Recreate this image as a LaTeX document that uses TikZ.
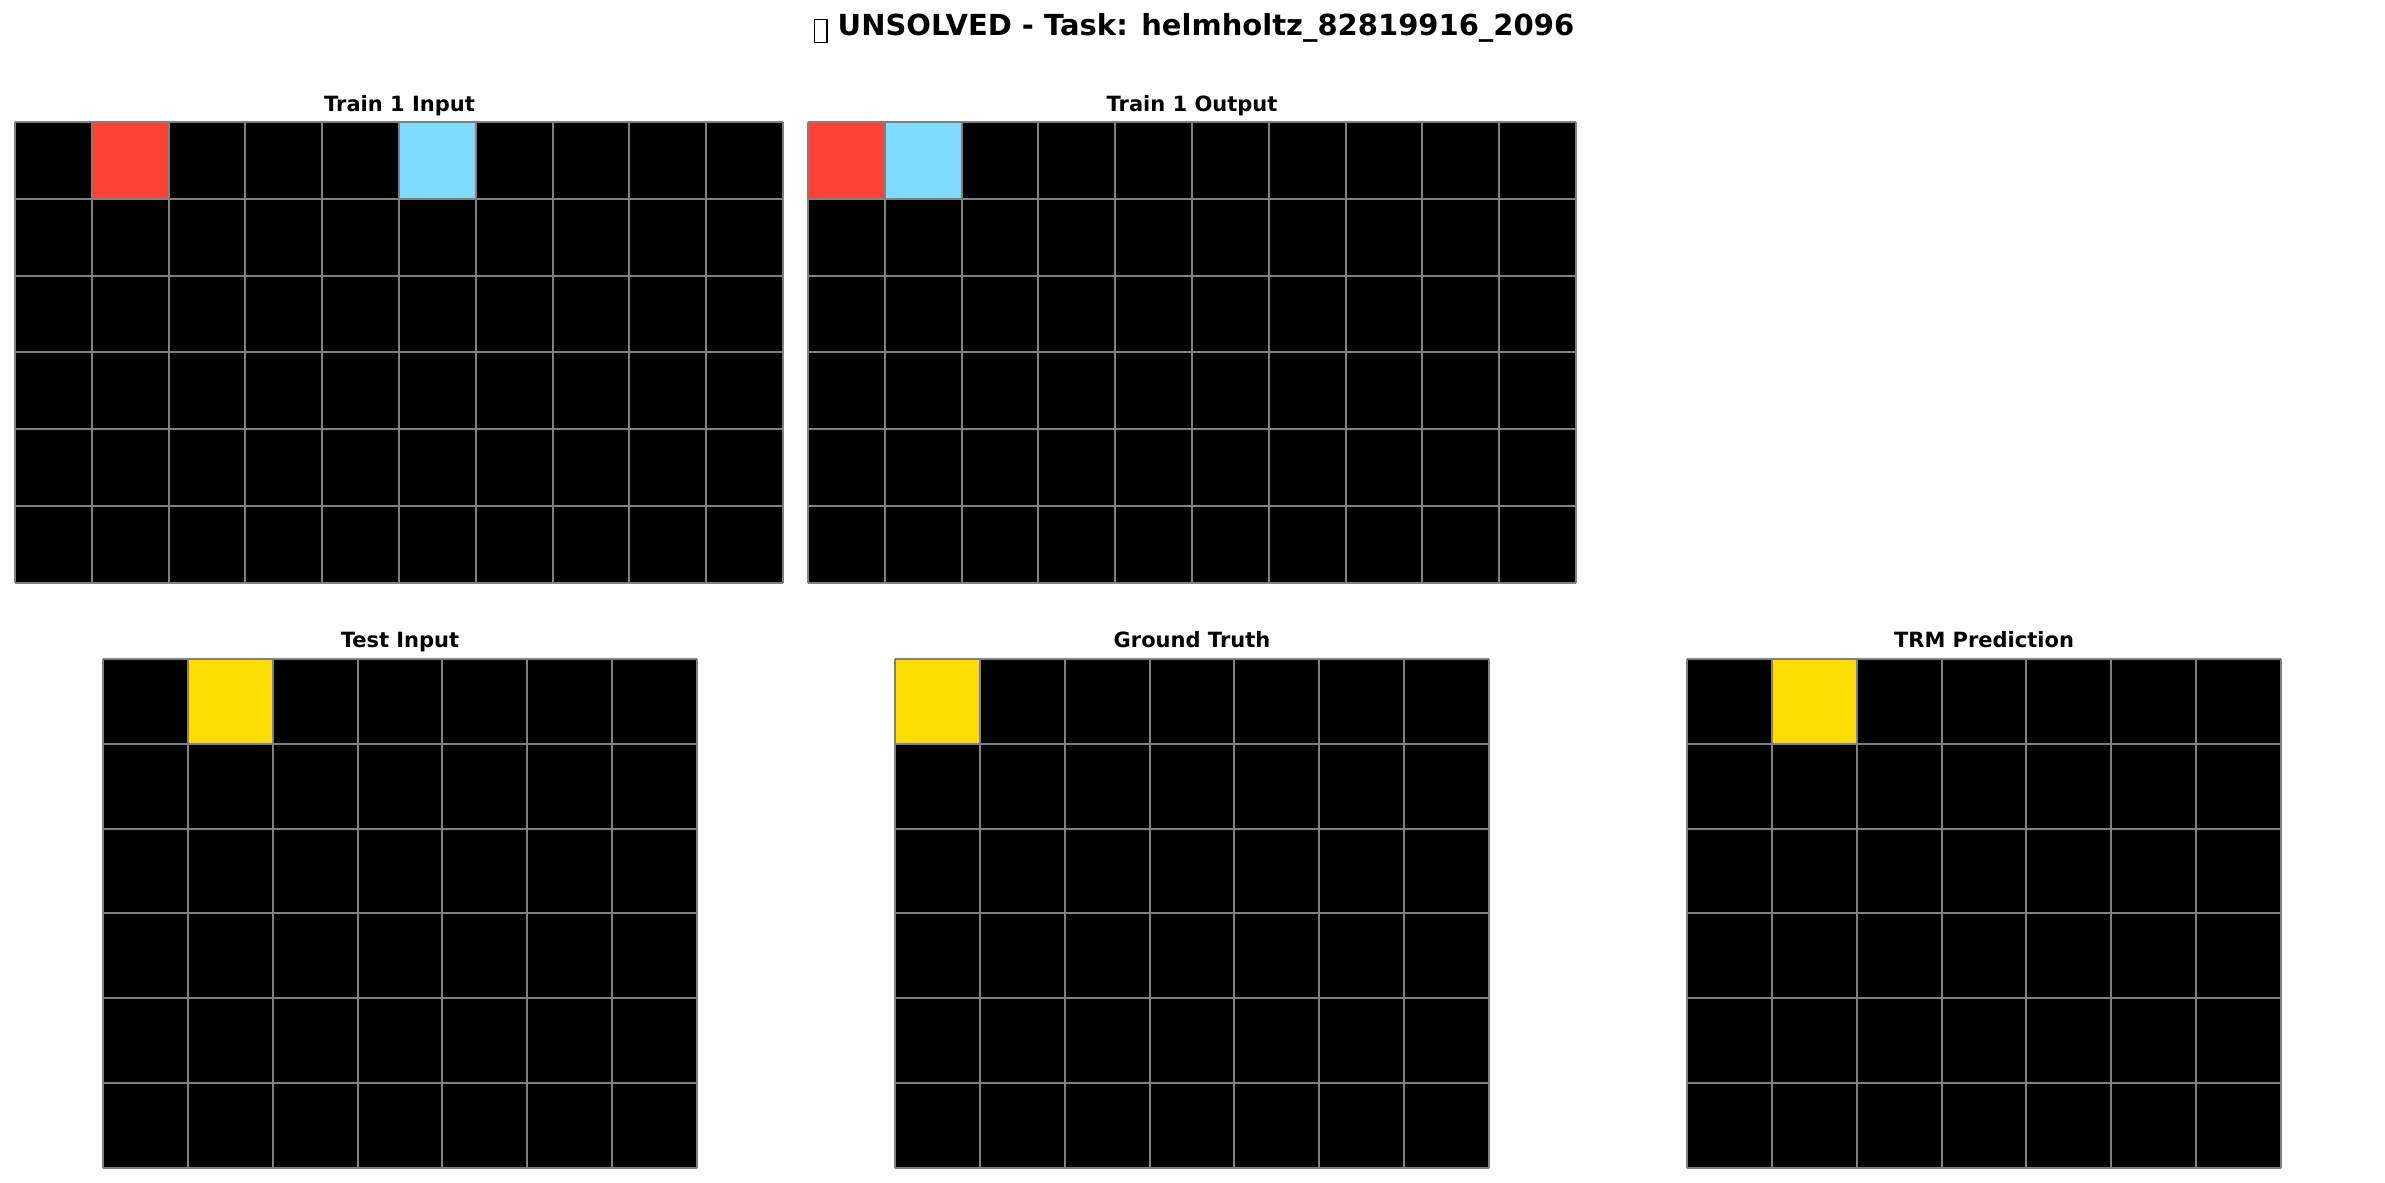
\documentclass[tikz,border=0pt]{standalone}
\usepackage{fontspec}
\setmainfont{DejaVu Sans}
\definecolor{arcred}{HTML}{FF4136}
\definecolor{arcblue}{HTML}{7FDBFF}
\definecolor{arcyellow}{HTML}{FFDC00}
\definecolor{gridgray}{HTML}{808080}
\tikzset{
  subtitle/.style={font=\bfseries\fontsize{21}{25}\selectfont, inner sep=0pt, anchor=base},
  maintitle/.style={font=\bfseries\fontsize{29}{34}\selectfont, inner sep=0pt, anchor=base},
  gline/.style={draw=gridgray, line width=2pt},
}
% #1 x0, #2 y0, #3 cell, #4 cols, #5 rows
\newcommand\arcgrid[5]{%
  \fill[black] (#1,#2) rectangle ++({#4*#3},{#5*#3});
}
\newcommand\arccell[5]{% x0 y0 cell col colour
  \fill[#5] ({#1+#4*#3},#2) rectangle ++(#3,#3);
}
\newcommand\arclines[5]{%
  \foreach \i in {0,...,#4} \draw[gline] ({#1+\i*#3},#2) -- ++(0,{#5*#3});
  \foreach \j in {0,...,#5} \draw[gline] (#1,{#2+\j*#3}) -- ++({#4*#3},0);
}
\newcommand\tofu{\raisebox{-7pt}{\setlength{\fboxrule}{1.4pt}\setlength{\fboxsep}{0pt}\fbox{\rule{0pt}{22pt}\hspace{11pt}}}}
\begin{document}
\begin{tikzpicture}[x=1pt,y=-1pt]
\useasboundingbox (0,0) rectangle (2385,1183);
\node[maintitle] (title) at (1194,35) {\tofu\ UNSOLVED - Task: helmholtz\_82819916\_2096};

% Train 1 Input
\node[subtitle] (t1in) at (399.5,111) {Train 1 Input};
\arcgrid{15}{122}{76.8}{10}{6}
\arccell{15}{122}{76.8}{1}{arcred}
\arccell{15}{122}{76.8}{5}{arcblue}
\arclines{15}{122}{76.8}{10}{6}

% Train 1 Output
\node[subtitle] (t1out) at (1192,111) {Train 1 Output};
\arcgrid{808}{122}{76.8}{10}{6}
\arccell{808}{122}{76.8}{0}{arcred}
\arccell{808}{122}{76.8}{1}{arcblue}
\arclines{808}{122}{76.8}{10}{6}

% Test Input
\node[subtitle] (testin) at (400,647) {Test Input};
\arcgrid{103.2}{659}{84.8}{7}{6}
\arccell{103.2}{659}{84.8}{1}{arcyellow}
\arclines{103.2}{659}{84.8}{7}{6}

% Ground Truth
\node[subtitle] (gt) at (1192,647) {Ground Truth};
\arcgrid{895.2}{659}{84.8}{7}{6}
\arccell{895.2}{659}{84.8}{0}{arcyellow}
\arclines{895.2}{659}{84.8}{7}{6}

% TRM Prediction
\node[subtitle] (trm) at (1984,647) {TRM Prediction};
\arcgrid{1687.2}{659}{84.8}{7}{6}
\arccell{1687.2}{659}{84.8}{1}{arcyellow}
\arclines{1687.2}{659}{84.8}{7}{6}
\end{tikzpicture}
\end{document}
